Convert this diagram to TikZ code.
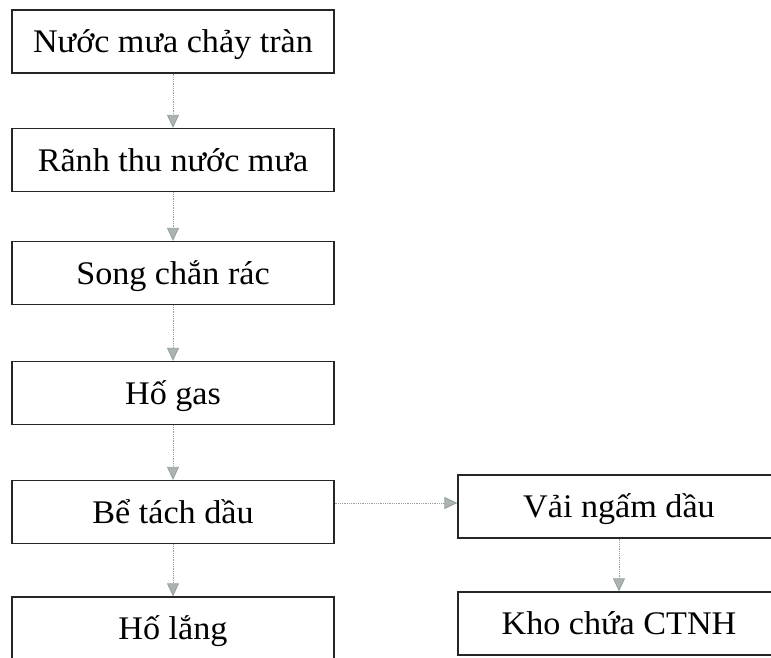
\documentclass[tikz,border=0pt]{standalone}
\usepackage{fontspec}
\setmainfont{Liberation Serif}[FakeStretch=1.035]
\usetikzlibrary{arrows.meta}
\definecolor{arrowgrey}{RGB}{150,160,160}
\tikzset{
	box/.style={draw=black!85, line width=1.3pt, minimum width=322pt, minimum height=63pt, inner sep=0pt, text height=22pt, text depth=0pt, font=\fontsize{33}{38}\selectfont},
	flow/.style={draw=arrowgrey, densely dotted, line width=0.8pt, -{Triangle[width=12pt,length=13pt,fill=arrowgrey!80]}}
}
\begin{document}
\begin{tikzpicture}[x=1pt,y=-1pt]
			\clip(0,0) rectangle (771,657);
			\node[box] (nuocmua) at(173,41.5){Nước mưa chảy tràn};
			\node[box] (ranh) at(173,160){Rãnh thu nước mưa};
			\node[box] (song) at(173,273){Song chắn rác};
			\node[box] (hoga) at(173,393){Hố gas};
			\node[box] (betach) at(173,512){Bể tách dầu};
			\node[box] (holang) at(173,628.5){Hố lắng};
			\node[box] (vai) at(619,506.5){Vải ngấm dầu};
			\node[box] (kho) at(619,623.5){Kho chứa CTNH};
			\coordinate (ngang) at(0,503);
			\draw[flow](nuocmua)--(ranh);
			\draw[flow](ranh)--(song);
			\draw[flow](song)--(hoga);
			\draw[flow](hoga)--(betach);
			\draw[flow](betach)--(holang);
			\draw[flow](betach.east |- ngang)--(vai.west |- ngang);
			\draw[flow](vai)--(kho);
\end{tikzpicture}
\end{document}
